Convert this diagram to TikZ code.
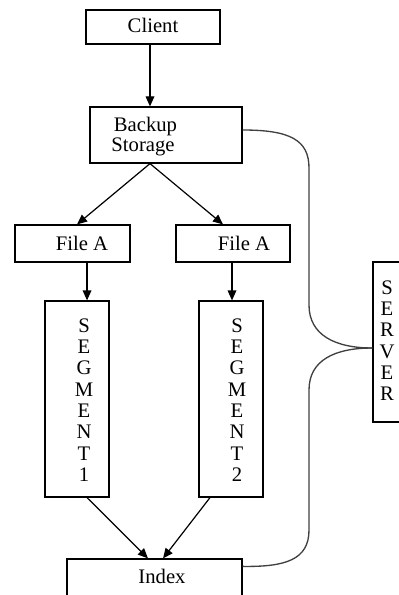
\documentclass[tikz,border=0pt]{standalone}
\usepackage{fontspec}
\setmainfont{Liberation Serif}
\usetikzlibrary{arrows.meta,calc}
\tikzset{
  box/.style={draw, line width=0.9pt, inner sep=0pt},
  lbl/.style={inner sep=0pt, font=\fontsize{15.5pt}{16pt}\selectfont},
  stack/.style={lbl, align=center},
  flow/.style={line width=0.9pt, -{Triangle[length=7.5pt,width=6.5pt]}},
  link/.style={line width=1pt, draw=black!75},
}
% rectangle given by its corners (left, top, right, bottom)
\newcommand\pxbox[5]{\node[box, minimum width={(#4-#2)*0.75pt}, minimum height={(#5-#3)*0.75pt}] (#1) at ({(#2+#4)/2},{(#3+#5)/2}) {};}
\begin{document}
\begin{tikzpicture}[x=0.75pt, y=-0.75pt]
\useasboundingbox (0,0) rectangle (399,595);
\clip (0,0) rectangle (399,595);

% boxes
\pxbox{client}{86}{10}{220}{44}
\pxbox{backup}{90}{107}{242}{163}
\pxbox{fileA1}{15}{225}{130}{262}
\pxbox{fileA2}{176}{225}{290}{262}
\pxbox{seg1}{45}{301}{109}{497}
\pxbox{seg2}{199}{301}{263}{497}
\pxbox{index}{67}{559}{242}{612}
\pxbox{server}{373}{262}{420}{422}

% labels
\node[lbl, anchor=base] (tclient) at (153,33) {Client};
\node[lbl, anchor=base] (tbackup) at (145.5,132) {Backup};
\node[lbl, anchor=base] (tstorage) at (143,152) {Storage};
\node[lbl, anchor=base] (tfile1) at (82,250) {File A};
\node[lbl, anchor=base] (tfile2) at (244,250) {File A};
\node[stack] (tseg1) at (84,400) {S\\E\\G\\M\\E\\N\\T\\1};
\node[stack] (tseg2) at (237,400) {S\\E\\G\\M\\E\\N\\T\\2};
\node[stack] (tserver) at (387,340.5) {S\\E\\R\\V\\E\\R};
\node[lbl, anchor=base] (tindex) at (162,583) {Index};

% data flow
\draw[flow] ([xshift=-2.25pt]client.south) -- ([xshift=-2.25pt]client.south |- backup.north);
\draw[flow] ([xshift=-12pt]backup.south) -- ([xshift=3.4pt]fileA1.north);
\draw[flow] ([xshift=-12pt]backup.south) -- ([xshift=-7.5pt]fileA2.north);
\draw[flow] ([xshift=10.9pt]fileA1.south) -- ([xshift=10.9pt]fileA1.south |- seg1.north);
\draw[flow] ([xshift=-0.75pt]fileA2.south) -- ([xshift=-0.75pt]fileA2.south |- seg2.north);
\draw[flow] ([xshift=7.5pt]seg1.south) -- ([xshift=-4.9pt]index.north);
\draw[flow] ([xshift=-15.75pt]seg2.south) -- ([xshift=6.4pt]index.north);

% server links
\draw[link] ([yshift=3.75pt]backup.east) .. controls (290,130) and (309,140) .. (309,168)
  -- (309,305) .. controls (309,335) and (335,348) .. ([yshift=-4.5pt]server.west);
\draw[link] ([yshift=-4.5pt]server.west) .. controls (335,348) and (309,360) .. (309,390)
  -- (309,530) .. controls (309,560) and (285,567) .. ([yshift=-6pt]index.north east);
\end{tikzpicture}
\end{document}
